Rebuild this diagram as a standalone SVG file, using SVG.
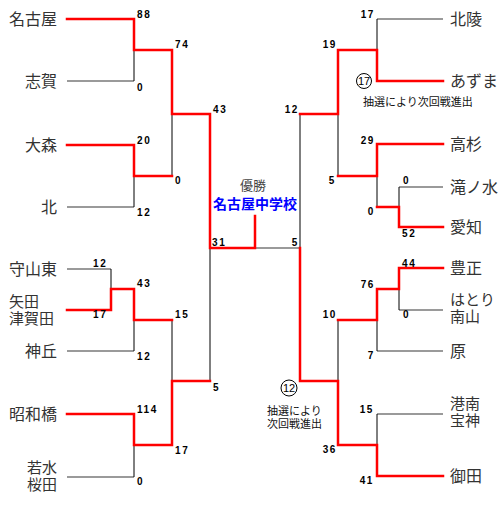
<svg xmlns="http://www.w3.org/2000/svg" width="504" height="510" viewBox="0 0 504 510">
<style>
.bg{fill:#fff}
.nm{font-family:"Noto Sans CJK JP","Noto Sans",sans-serif;font-size:16px;fill:#333}
.n2{font-family:"Liberation Sans","Noto Sans CJK JP",sans-serif;font-size:15px}
.nl{text-anchor:end}
.sc{font-family:"Liberation Sans",Arial,sans-serif;font-size:10px;font-weight:bold;fill:#000;letter-spacing:1.6px}
.se{text-anchor:end}
.win{fill:none;stroke:#f00;stroke-width:2.5;stroke-linejoin:miter;stroke-linecap:square}
.ln{fill:none;stroke:#000;stroke-width:1}
.gr{fill:none;stroke:#7a7a7a;stroke-width:1.4}
.note{font-family:"Liberation Sans","Noto Sans CJK JP",sans-serif;font-size:11px;fill:#111}
.circ{fill:none;stroke:#000;stroke-width:1}
.cn{font-family:"Liberation Sans",Arial,sans-serif;font-size:11px;fill:#000;text-anchor:middle}
</style>
<rect class="bg" x="0" y="0" width="504" height="510"/>
<g id="connectors">
<path class="gr" d="M67,81 H134 M67,207 H134 M67,269 H111 M67,351 H134 M67,477 H134 M255,248 H300 M377,19 H443 M399,187 H443 M399,310 H443 M377,351 H443 M377,414 H443"/>
<path class="ln" d="M134,50 V81 M134,176 V207 M172,114 V176 M111,269 V289 M134,320 V351 M172,320 V381 M210,248 V381 M134,445 V477 M300,114 V248 M377,19 V50 M338,114 V176 M377,176 V207 M399,187 V207 M399,289 V310 M377,320 V351 M338,320 V381 M377,414 V445"/>
<path class="win" d="M67,19 H134 V50 H172 V114 H210 V248 H255 V216"/>
<path class="win" d="M67,145 H134 V176 H172"/>
<path class="win" d="M67,310 H111 V289 H134 V320 H172"/>
<path class="win" d="M67,414 H134 V445 H172 V381 H210"/>
<path class="win" d="M443,81 H377 V50 H338 V114 H300"/>
<path class="win" d="M443,144 H377 V176 H338"/>
<path class="win" d="M443,227 H399 V207 H377"/>
<path class="win" d="M443,268 H399 V289 H377 V320 H338"/>
<path class="win" d="M300,248 V381 H338 V445 H377 V476 H443"/>
</g>
<g id="scores">
<text class="sc" x="137" y="18">88</text>
<text class="sc" x="175" y="48">74</text>
<text class="sc" x="137" y="91">0</text>
<text class="sc" x="213" y="113">43</text>
<text class="sc" x="137" y="144">20</text>
<text class="sc" x="175" y="184">0</text>
<text class="sc" x="137" y="216">12</text>
<text class="sc" x="212" y="246">31</text>
<text class="sc" x="93" y="267">12</text>
<text class="sc" x="137" y="287">43</text>
<text class="sc" x="93" y="318">17</text>
<text class="sc" x="175" y="318">15</text>
<text class="sc" x="137" y="360">12</text>
<text class="sc" x="213" y="391">5</text>
<text class="sc" x="137" y="413">114</text>
<text class="sc" x="175" y="454">17</text>
<text class="sc" x="137" y="485">0</text>
<text class="sc se" x="299" y="246">5</text>
<text class="sc se" x="375" y="18">17</text>
<text class="sc se" x="337" y="48">19</text>
<text class="sc se" x="299" y="113">12</text>
<text class="sc se" x="375" y="144">29</text>
<text class="sc se" x="336" y="184">5</text>
<text class="sc" x="403" y="184">0</text>
<text class="sc se" x="375" y="215">0</text>
<text class="sc" x="402" y="237">52</text>
<text class="sc" x="402" y="267">44</text>
<text class="sc se" x="375" y="288">76</text>
<text class="sc" x="403" y="318">0</text>
<text class="sc se" x="337" y="318">10</text>
<text class="sc se" x="375" y="359">7</text>
<text class="sc se" x="374" y="413">15</text>
<text class="sc se" x="337" y="453">36</text>
<text class="sc se" x="374" y="484">41</text>
</g>
<g id="team-nagoya"><text class="nm nl" x="57" y="25">名古屋</text></g>
<g id="team-shiga"><text class="nm nl" x="57" y="87">志賀</text></g>
<g id="team-omori"><text class="nm nl" x="57" y="151">大森</text></g>
<g id="team-kita"><text class="nm nl" x="57" y="213">北</text></g>
<g id="team-moriyamahigashi"><text class="nm nl" x="57" y="275">守山東</text></g>
<g id="team-yadatsugata"><text class="nm n2"><tspan x="9" y="307">矢田</tspan><tspan x="9" y="324">津賀田</tspan></text></g>
<g id="team-kamioka"><text class="nm nl" x="57" y="357">神丘</text></g>
<g id="team-showabashi"><text class="nm nl" x="57" y="420">昭和橋</text></g>
<g id="team-wakamizu-sakurada"><text class="nm n2 nl"><tspan x="57" y="473">若水</tspan><tspan x="57" y="490">桜田</tspan></text></g>
<g id="team-hokuryo"><text class="nm" x="450" y="25">北陵</text></g>
<g id="team-azuma"><text class="nm" x="450" y="87">あずま</text></g>
<g id="team-takasugi"><text class="nm" x="450" y="150">高杉</text></g>
<g id="team-takinomizu"><text class="nm" x="450" y="193">滝ノ水</text></g>
<g id="team-aichi"><text class="nm" x="450" y="233">愛知</text></g>
<g id="team-hosho"><text class="nm" x="450" y="274">豊正</text></g>
<g id="team-hatori-minamiyama"><text class="nm n2"><tspan x="450" y="305">はとり</tspan><tspan x="450" y="322">南山</tspan></text></g>
<g id="team-hara"><text class="nm" x="450" y="357">原</text></g>
<g id="team-konan-hoshin"><text class="nm n2"><tspan x="450" y="409">港南</tspan><tspan x="450" y="426">宝神</tspan></text></g>
<g id="team-mita"><text class="nm" x="450" y="482">御田</text></g>
<g id="champion">
<text x="253" y="190" style="font-family:'Noto Sans CJK JP','Noto Sans',sans-serif;font-size:13px;fill:#444;text-anchor:middle">優勝</text>
<text x="255" y="209" style="font-family:'Noto Sans CJK JP','Noto Sans',sans-serif;font-size:14px;font-weight:bold;fill:#00f;text-anchor:middle">名古屋中学校</text>
</g>
<g id="note-17">
<circle class="circ" cx="364" cy="81" r="7.5"/>
<text class="cn" x="364" y="85">17</text>
<text class="note" x="363" y="106">抽選により次回戦進出</text>
</g>
<g id="note-12">
<circle class="circ" cx="289" cy="388" r="8"/>
<text class="cn" x="289" y="392">12</text>
<text class="note"><tspan x="267" y="415">抽選により</tspan><tspan x="267" y="428">次回戦進出</tspan></text>
</g>
</svg>
